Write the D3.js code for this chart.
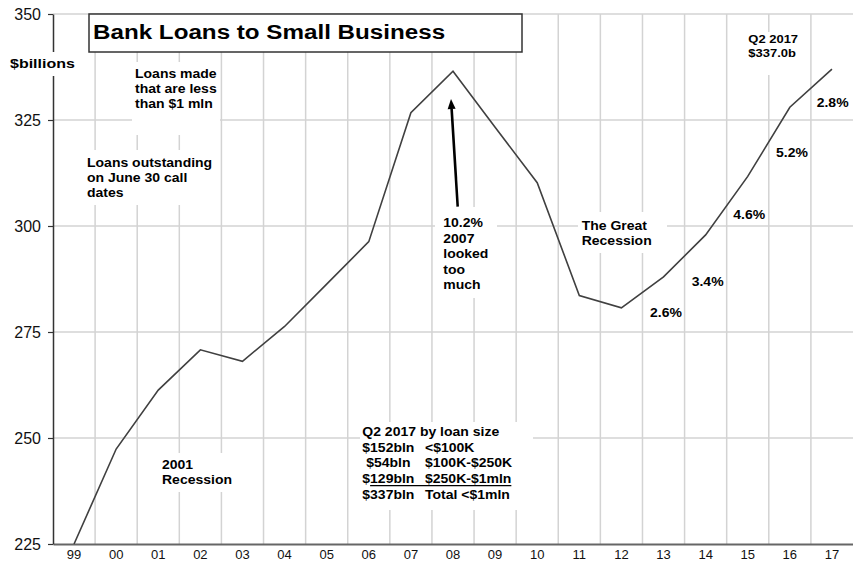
<!DOCTYPE html>
<html><head><meta charset="utf-8">
<script src="https://cdn.jsdelivr.net/npm/d3@7"></script>
<style>
body{margin:0;background:#fff}
svg{display:block}
text{font-family:"Liberation Sans",Arial,Helvetica,sans-serif}
</style>
</head><body>
<svg id="c" width="853" height="563"></svg>
<script>
// ---- data ----
const years = ["99","00","01","02","03","04","05","06","07","08","09","10","11","12","13","14","15","16","17"];
const loans = [225.0, 247.4, 261.3, 270.8, 268.1, 276.3, 286.3, 296.3, 326.7, 336.5, 323.3, 310.2, 283.6, 280.7, 288.0, 297.9, 311.7, 328.0, 337.0];
const yTicks = [225, 250, 275, 300, 325, 350];
const growthLabels = ["2.6%", "3.4%", "4.6%", "5.2%", "2.8%"];
const breakdownHeader = "Q2 2017 by loan size";
const breakdownAmounts = ["$152bln", " $54bln", "$129bln", "$337bln"];
const breakdownRanges = ["<$100K", "$100K-$250K", "$250K-$1mln", "Total <$1mln"];

// ---- layout ----
const W = 853, H = 563;
const svg = d3.select("#c");
const x = d3.scaleBand().domain(years).range([53, 853]).paddingInner(0).paddingOuter(0);
const y = d3.scaleLinear().domain([225, 350]).range([544, 14]);
const gridColor = "#d3d3d3";

// gridlines
const grid = svg.append("g");
grid.selectAll("line.v").data(years.slice(1)).join("line")
  .attr("x1", d => x(d)).attr("x2", d => x(d))
  .attr("y1", y(350)).attr("y2", y(225))
  .attr("stroke", gridColor).attr("stroke-width", 1.5);
grid.selectAll("line.h").data(yTicks.slice(1)).join("line")
  .attr("x1", 53).attr("x2", W)
  .attr("y1", d => y(d)).attr("y2", d => y(d))
  .attr("stroke", gridColor).attr("stroke-width", 1.5);

// x axis
const xAxis = svg.append("g").attr("transform", `translate(0,${y(225)})`)
  .call(d3.axisBottom(x).tickSize(0).tickSizeOuter(0).tickPadding(6));
xAxis.select(".domain").attr("stroke", "#666").attr("stroke-width", 2);
xAxis.selectAll("text").attr("font-size", 13).attr("fill", "#111")
  .style("font-family", '"Liberation Sans",Arial,sans-serif');

// y axis
const yAxis = svg.append("g").attr("transform", `translate(53,0)`)
  .call(d3.axisLeft(y).tickValues(yTicks).tickSize(5).tickSizeOuter(0).tickPadding(7));
yAxis.select(".domain").attr("stroke", "#333").attr("stroke-width", 1.5);
yAxis.selectAll(".tick line").attr("stroke", "#333").attr("stroke-width", 1.2);
yAxis.selectAll("text").attr("font-size", 16).attr("fill", "#111")
  .style("font-family", '"Liberation Sans",Arial,sans-serif');

// white annotation backgrounds
const boxes = [
  [5, 52, 78, 76],
  [132, 62, 220, 135],
  [83, 150, 218, 205],
  [156, 453, 234, 492],
  [435, 207, 497, 298],
  [578, 212, 667, 253],
  [742, 32, 800, 75],
  [360, 422, 533, 510]
];
svg.append("g").selectAll("rect").data(boxes).join("rect")
  .attr("x", d => d[0]).attr("y", d => d[1])
  .attr("width", d => d[2] - d[0]).attr("height", d => d[3] - d[1])
  .attr("fill", "#fff");

// title box
svg.append("rect").attr("x", 89).attr("y", 14).attr("width", 433).attr("height", 38)
  .attr("fill", "#fff").attr("stroke", "#333").attr("stroke-width", 1.5);

// data line
svg.append("path").datum(loans)
  .attr("fill", "none").attr("stroke", "#404040").attr("stroke-width", 1.6)
  .attr("stroke-linejoin", "miter")
  .attr("d", d3.line().x((d, i) => x(years[i]) + x.bandwidth() / 2).y(d => y(d)));

// text helper
function label(px, py, lines, size, sx, lh, weight = "bold") {
  const t = svg.append("text")
    .attr("transform", `translate(${px},${py}) scale(${sx},1)`)
    .attr("font-size", size).attr("font-weight", weight).attr("fill", "#000")
    .style("white-space", "pre");
  lines.forEach((s, i) => t.append("tspan").attr("x", 0).attr("y", i * lh).text(s));
  return t;
}

const AS = 12.5, ASX = 1.12;
label(93, 38.5, ["Bank Loans to Small Business"], 20, 1.21, 0);
label(10, 68.3, ["$billions"], 13, 1.23, 0);
label(135, 77.7, ["Loans made", "that are less", "than $1 mln"], AS, ASX, 15.3);
label(87, 166.7, ["Loans outstanding", "on June 30 call", "dates"], AS, ASX, 15);
label(162, 469, ["2001", "Recession"], AS, ASX, 15);
label(443.3, 227.3, ["10.2%", "2007", "looked", "too", "much"], AS, ASX, 15.5);
label(581.7, 230, ["The Great", "Recession"], AS, ASX, 15);
label(748.3, 43.3, ["Q2 2017", "$337.0b"], 11.3, 1.15, 13.4);

const growthPos = [[650, 317.3], [691.7, 286], [733.3, 219], [776, 157.3], [816.7, 106.7]];
growthLabels.forEach((g, i) => label(growthPos[i][0], growthPos[i][1], [g], AS, ASX, 0));

// breakdown box
label(362.3, 436, [breakdownHeader], AS, ASX, 0);
const bLH = 15.7;
const col1 = label(362.3, 451.7, breakdownAmounts, AS, ASX, bLH);
const col2 = label(425, 451.7, breakdownRanges, AS, ASX, bLH);
// underline third row (after the "$")
{
  const t1 = col1.selectAll("tspan").nodes()[2];
  const t2 = col2.selectAll("tspan").nodes()[2];
  const dollarW = t1.getSubStringLength(0, 1) * ASX;
  const endW = t2.getComputedTextLength() * ASX;
  const uy = 451.7 + 2 * bLH + 2.6;
  svg.append("line").attr("x1", 362.3 + dollarW).attr("x2", 425 + endW)
    .attr("y1", uy).attr("y2", uy).attr("stroke", "#000").attr("stroke-width", 1.3);
}

// arrow
{
  const x0 = 457.7, y0 = 206.7, x1 = 451, y1 = 99;
  const ang = Math.atan2(y1 - y0, x1 - x0);
  const L = 10, Wd = 4;
  const bx = x1 - L * Math.cos(ang), by = y1 - L * Math.sin(ang);
  svg.append("line").attr("x1", x0).attr("y1", y0).attr("x2", bx).attr("y2", by)
    .attr("stroke", "#000").attr("stroke-width", 2.6);
  const px = -Math.sin(ang), py = Math.cos(ang);
  svg.append("path")
    .attr("d", `M${x1},${y1}L${bx + Wd * px},${by + Wd * py}L${bx - Wd * px},${by - Wd * py}Z`)
    .attr("fill", "#000");
}
</script>
</body></html>
